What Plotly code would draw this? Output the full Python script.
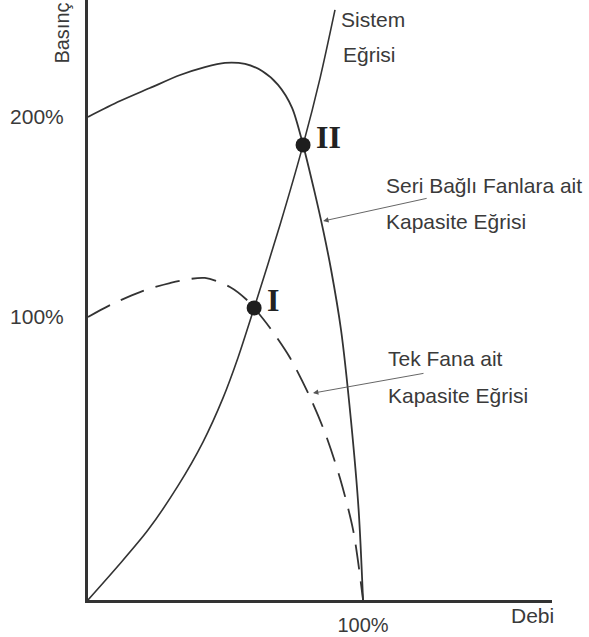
import plotly.graph_objects as go

# Debi (% of nominal flow) and Basınç (pressure, schematic units)
series_flow = [0, 11.6, 22.5, 33.5, 42.5, 49.8, 57.1, 63.3, 69.1, 74.2, 78.2, 82.2, 85.5, 88.4, 92.0, 95.6, 98.4, 100]
series_pressure = [170.7, 176.3, 180.9, 185.5, 188.3, 189.8, 189.4, 186.9, 182.0, 173.9, 160.8, 144.9, 130.7, 116.6, 95.4, 63.6, 31.8, 0]

single_flow = [0, 8.0, 18.9, 29.8, 42.5, 51.6, 57.8, 60.4, 66.2, 73.5, 80.7, 86.2, 91.6, 96.4, 100]
single_pressure = [100, 104.2, 108.8, 112.0, 113.8, 110.6, 106.0, 103.2, 96.1, 85.5, 71.7, 59.0, 43.1, 24.7, 0]

system_flow = [0, 10.9, 21.8, 32.7, 41.8, 49.1, 54.5, 60.4, 69.8, 78.2, 84.4, 89.8]
system_pressure = [0, 12.0, 24.7, 40.3, 55.8, 71.4, 85.5, 103.2, 132.5, 160.8, 184.5, 208.5]

op_flow = [60.4, 78.2]
op_pressure = [103.2, 160.8]
op_labels = ["I", "II"]

y_tick_text = ["100%", "200%"]
x_tick_vals = [100]
x_tick_text = ["100%"]

LINE = "#333333"
TXT = "#3a3a3a"
FONT = "Liberation Sans, Arial, sans-serif"
FS = 21

fig = go.Figure()
fig.add_trace(go.Scatter(x=series_flow, y=series_pressure, mode="lines",
                         line=dict(color=LINE, width=1.8, shape="spline", smoothing=0.8),
                         hoverinfo="skip"))
fig.add_trace(go.Scatter(x=single_flow, y=single_pressure, mode="lines",
                         line=dict(color=LINE, width=1.8, shape="spline", smoothing=0.8, dash="25px,12px"),
                         hoverinfo="skip"))
fig.add_trace(go.Scatter(x=system_flow, y=system_pressure, mode="lines",
                         line=dict(color=LINE, width=1.6, shape="spline", smoothing=0.8),
                         hoverinfo="skip"))
fig.add_trace(go.Scatter(x=op_flow, y=op_pressure, mode="markers",
                         marker=dict(color="#1e1e1e", size=15),
                         hoverinfo="skip"))

annotations = []
# operating point labels
for fx, py, lab in zip(op_flow, op_pressure, op_labels):
    annotations.append(dict(x=fx, y=py, text="<b>%s</b>" % lab, showarrow=False,
                            xanchor="left", yanchor="middle", xshift=11, yshift=8,
                            font=dict(family="Liberation Serif, Times New Roman, serif", size=32, color="#222")))

def label(x, y, text):
    annotations.append(dict(x=x, y=y, text=text, showarrow=False, xanchor="left", yanchor="middle",
                            font=dict(family=FONT, size=FS, color=TXT)))

label(91.3, 205.0, "Sistem")
label(92.0, 192.6, "Eğrisi")
label(107.6, 146.6, "Seri Bağlı Fanlara ait")
label(107.6, 133.9, "Kapasite Eğrisi")
label(108.3, 85.5, "Tek Fana ait")
label(108.3, 72.4, "Kapasite Eğrisi")

# pointer arrows
annotations.append(dict(x=85.5, y=133.9, ax=105, ay=-23, text="", showarrow=True,
                        arrowhead=2, arrowsize=1.2, arrowwidth=0.9, arrowcolor="#555"))
annotations.append(dict(x=81.8, y=73.1, ax=112, ay=-20, text="", showarrow=True,
                        arrowhead=2, arrowsize=1.2, arrowwidth=0.9, arrowcolor="#555"))

# axis titles (paper coordinates)
annotations.append(dict(x=0.957, y=-0.025, xref="paper", yref="paper", text="Debi", showarrow=False,
                        xanchor="center", yanchor="middle", font=dict(family=FONT, size=FS, color=TXT)))
annotations.append(dict(x=-0.056, y=0.944, xref="paper", yref="paper", text="Basınç", showarrow=False,
                        textangle=-90, xanchor="center", yanchor="middle",
                        font=dict(family=FONT, size=20, color=TXT)))

fig.update_layout(
    width=589, height=637,
    margin=dict(l=88, r=37, t=0, b=37, autoexpand=False),
    paper_bgcolor="white", plot_bgcolor="white",
    showlegend=False,
    annotations=annotations,
    xaxis=dict(range=[0, 168.7], showgrid=False, zeroline=False, showline=True, automargin=False,
               linecolor=LINE, linewidth=3, tickvals=x_tick_vals, ticktext=x_tick_text,
               ticks="", ticklabelstandoff=5, fixedrange=True,
               tickfont=dict(family=FONT, size=20, color=TXT)),
    yaxis=dict(range=[0, 212], showgrid=False, zeroline=False, showline=True, automargin=False,
               linecolor=LINE, linewidth=3,
               tickvals=[single_pressure[0], series_pressure[0]], ticktext=y_tick_text,
               ticks="", ticklabelstandoff=17, fixedrange=True,
               tickfont=dict(family=FONT, size=FS, color=TXT)),
)

fig.write_html("out.html", config={"displayModeBar": False},
               post_script="document.body.style.margin='0';document.body.style.overflow='hidden';")
